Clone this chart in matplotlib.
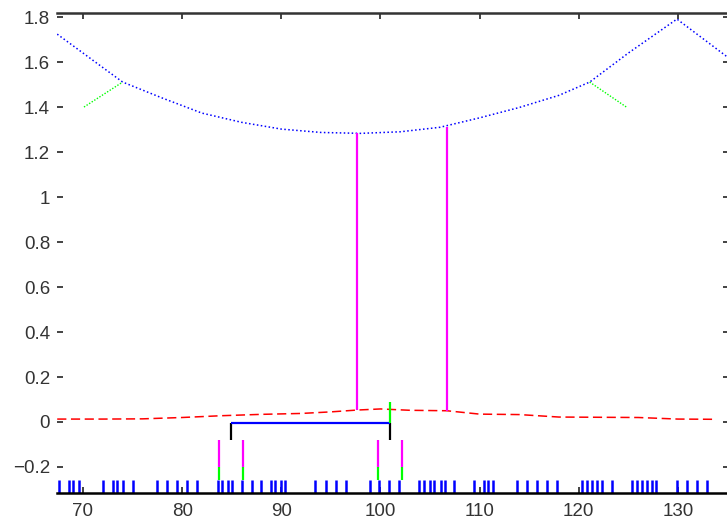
import numpy as np
import matplotlib
matplotlib.use('Agg')
import matplotlib.pyplot as plt

# courbe bleue (pointillee)
blue_x = [67.4, 74.0, 78, 82, 86, 90, 94, 98, 102, 106, 110, 114, 118, 121.1, 125, 129.9, 135.0]
blue_y = [1.724, 1.511, 1.44, 1.373, 1.332, 1.302, 1.287, 1.283, 1.29, 1.31, 1.352, 1.398, 1.452, 1.511, 1.64, 1.791, 1.622]

# courbe rouge (tirets) pres de zero
red_x = [67.4, 72, 76, 80, 84, 88, 92, 95, 97.6, 100, 103, 106.7, 110, 114, 118, 122, 126, 130, 133.7]
red_y = [0.013, 0.013, 0.014, 0.02, 0.028, 0.034, 0.038, 0.045, 0.053, 0.058, 0.052, 0.05, 0.035, 0.033, 0.022, 0.021, 0.02, 0.013, 0.012]

# segments verts aux cassures
green_left = ([70.1, 74.0], [1.40, 1.511])
green_right = ([121.1, 124.8], [1.511, 1.40])

# lignes magenta verticales
mag_x = [97.6, 106.7]
mag_bot = [0.053, 0.05]
mag_top = [1.283, 1.312]

# crochet
brack_x = [84.92, 101.0]
brack_y = -0.003
brack_low = -0.08
green_tick_x = 101.0
green_tick_top = 0.087

# petites barres magenta/vertes
ci_x = [83.74, 86.16, 99.72, 102.13]

# rug bleu
rug_x = [67.6, 68.6, 69.0, 69.6, 72.0, 73.0, 73.4, 74.0, 75.0, 77.5, 78.5, 79.5, 80.5,
         81.5, 83.6, 84.0, 84.6, 85.0, 86.0, 87.0, 88.0, 89.0, 89.4, 90.0, 90.4, 93.4,
         94.5, 95.5, 96.5, 98.9, 99.9, 100.9, 101.9, 103.9, 104.4, 105.0, 105.4, 106.1,
         106.5, 107.4, 109.4, 110.4, 110.8, 111.4, 113.8, 114.8, 115.8, 116.8, 117.8,
         120.3, 120.8, 121.3, 121.8, 122.3, 123.4, 125.4, 125.9, 126.4, 126.9, 127.4,
         127.8, 129.9, 130.9, 131.9, 132.9]

xticks = [70, 80, 90, 100, 110, 120, 130]
yticks = [-0.2, 0, 0.2, 0.4, 0.6, 0.8, 1, 1.2, 1.4, 1.6, 1.8]
ytick_labels = ['\u22120.2', '0', '0.2', '0.4', '0.6', '0.8', '1', '1.2', '1.4', '1.6', '1.8']

plt.rcParams['font.family'] = ['Liberation Sans', 'DejaVu Sans']

fig = plt.figure(figsize=(7.27, 5.23), dpi=100)
W, H = 727.0, 523.0
ax = fig.add_axes([57 / W, 30 / H, (729 - 57) / W, (493 - 13) / H])

ax.plot(blue_x, blue_y, color=(0, 0, 1), lw=1.1, linestyle=(0, (1, 1.6)))
ax.plot(red_x, red_y, color=(1, 0, 0), lw=1.1, linestyle=(0, (6, 3)))
ax.plot(*green_left, color=(0, 1, 0), lw=1.0, linestyle=(0, (1, 1.2)))
ax.plot(*green_right, color=(0, 1, 0), lw=1.0, linestyle=(0, (1, 1.2)))

ax.vlines(mag_x, mag_bot, mag_top, colors=(1, 0, 1), lw=1.6)

# crochet
ax.vlines(brack_x, brack_low, brack_y, colors='black', lw=1.6)
ax.hlines(brack_y, brack_x[0], brack_x[1], colors=(0, 0, 1), lw=1.6)
ax.vlines([green_tick_x], brack_y, green_tick_top, colors=(0, 1, 0), lw=1.6)

ax.vlines(ci_x, -0.08, -0.2, colors=(1, 0, 1), lw=1.6)
ax.vlines(ci_x, -0.2, -0.258, colors=(0, 1, 0), lw=1.6)

ax.vlines(rug_x, -0.258, -0.3156, colors=(0, 0, 1), lw=1.8)

ax.set_xlim(67.38, 135.15)
ax.set_ylim(-0.3156, 1.818)
ax.set_xticks(xticks)
ax.set_xticklabels([str(v) for v in xticks])
ax.set_yticks(yticks)
ax.set_yticklabels(ytick_labels)

ax.spines['left'].set_visible(False)
ax.spines['bottom'].set_linewidth(1.8)
ax.spines['top'].set_linewidth(1.8)
ax.spines['top'].set_color('#333333')
ax.spines['right'].set_color('#333333')
ax.tick_params(direction='in', top=True, right=True, length=4.5, width=1.2,
               colors='#222222', labelsize=13.5, labelcolor='#333333')
ax.tick_params(axis='x', pad=7)
ax.tick_params(axis='y', pad=5)

fig.savefig('out.png', dpi=100)
